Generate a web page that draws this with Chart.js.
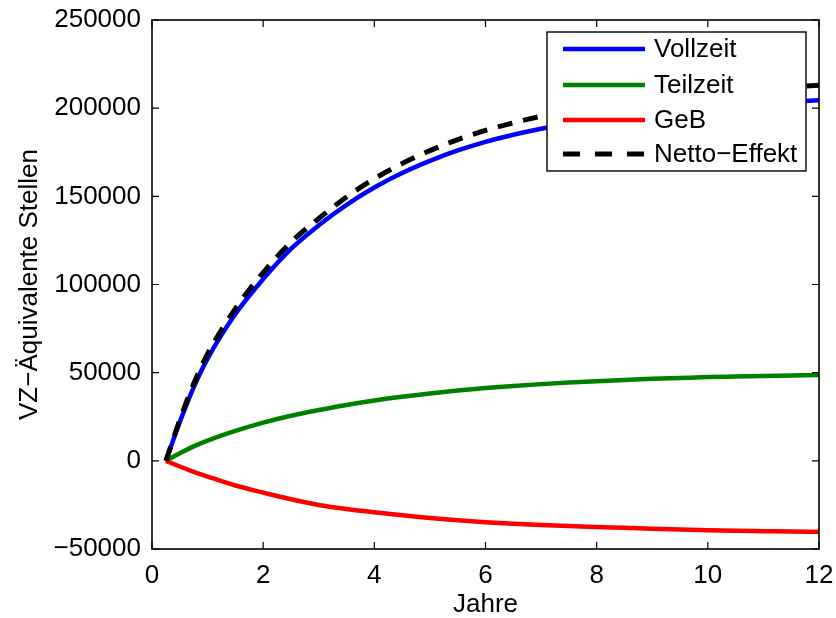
<!DOCTYPE html>
<html>
<head>
<meta charset="utf-8">
<script src="https://cdn.jsdelivr.net/npm/chart.js@4/dist/chart.umd.min.js"></script>
<style>
  html, body { margin: 0; padding: 0; background: #fff; }
  #wrap { width: 836px; height: 618px; position: relative; }
</style>
</head>
<body>
<div id="wrap"><canvas id="c" width="836" height="618"></canvas></div>
<script>
// ---- Data ----
const years = [0.25, 0.5, 0.75, 1, 1.5, 2, 2.5, 3, 3.5, 4, 4.5, 5, 5.5, 6, 6.5, 7, 7.5, 8, 8.5, 9, 9.5, 10, 10.5, 11, 11.5, 12];
const vollzeit = [0, 22000, 41700, 58000, 83300, 103100, 120200, 133600, 145200, 155000, 163200, 170100, 176000, 180900, 184900, 188300, 191200, 193600, 195600, 197400, 198900, 200200, 201500, 202600, 203600, 204500];
const teilzeit = [0, 4300, 8200, 11500, 17000, 21700, 25600, 28800, 31700, 34200, 36300, 38200, 39900, 41300, 42500, 43500, 44400, 45200, 45900, 46500, 47000, 47500, 47800, 48100, 48400, 48700];
const geb = [0, -3200, -6200, -8900, -14000, -18000, -21800, -25000, -27300, -29200, -30900, -32400, -33700, -34800, -35700, -36400, -37000, -37500, -38000, -38500, -39000, -39400, -39700, -39900, -40100, -40200];
const netto = [0, 23100, 43700, 60600, 86300, 106800, 124000, 137400, 149600, 160000, 168600, 175900, 182200, 187400, 191700, 195400, 198600, 201300, 203500, 205400, 206900, 208300, 209600, 210800, 211900, 213000];

const seriesNames = ['Vollzeit', 'Teilzeit', 'GeB', 'Netto\u2212Effekt'];
const xTickValues = [0, 2, 4, 6, 8, 10, 12];
const xTickLabels = ['0', '2', '4', '6', '8', '10', '12'];
const yTickValues = [-50000, 0, 50000, 100000, 150000, 200000, 250000];
const yTickLabels = ['\u221250000', '0', '50000', '100000', '150000', '200000', '250000'];
const xTitle = 'Jahre';
const yTitle = 'VZ\u2212\u00C4quivalente Stellen';

const FONT = 'Liberation Sans, Arial, Helvetica, sans-serif';
const FS = 26;

function pts(arr) { return years.map((x, i) => ({ x: x, y: arr[i] })); }

const lineStyles = [
  { color: '#0000FF', dash: [] },
  { color: '#008000', dash: [] },
  { color: '#FF0000', dash: [] },
  { color: '#000000', dash: [15, 11] }
];
const allSeries = [vollzeit, teilzeit, geb, netto];

const datasets = allSeries.map((arr, i) => ({
  label: seriesNames[i],
  data: pts(arr),
  borderColor: lineStyles[i].color,
  backgroundColor: lineStyles[i].color,
  borderDash: lineStyles[i].dash,
  borderWidth: i === 3 ? 5 : 4.5,
  pointRadius: 0,
  fill: false,
  cubicInterpolationMode: 'monotone',
  order: 4 - i
}));

// Box, inward ticks, and legend
const boxPlugin = {
  id: 'boxPlugin',
  afterDraw(chart) {
    const ctx = chart.ctx;
    const a = chart.chartArea;
    const xs = chart.scales.x, ys = chart.scales.y;
    ctx.save();
    ctx.strokeStyle = '#000';
    ctx.lineWidth = 1.6;
    ctx.setLineDash([]);
    ctx.strokeRect(a.left, a.top, a.right - a.left, a.bottom - a.top);
    const tl = 7;
    ctx.lineWidth = 1.2;
    ctx.beginPath();
    xTickValues.forEach(v => {
      const px = xs.getPixelForValue(v);
      ctx.moveTo(px, a.bottom); ctx.lineTo(px, a.bottom - tl);
      ctx.moveTo(px, a.top); ctx.lineTo(px, a.top + tl);
    });
    yTickValues.forEach(v => {
      const py = ys.getPixelForValue(v);
      ctx.moveTo(a.left, py); ctx.lineTo(a.left + tl, py);
      ctx.moveTo(a.right, py); ctx.lineTo(a.right - tl, py);
    });
    ctx.stroke();

    // Legend
    const lw = 259, lh = 139;
    const lx = a.right - 13 - lw, ly = a.top + 12;
    ctx.fillStyle = '#fff';
    ctx.fillRect(lx, ly, lw, lh);
    ctx.lineWidth = 1.4;
    ctx.strokeStyle = '#000';
    ctx.strokeRect(lx, ly, lw, lh);
    ctx.font = FS + 'px ' + FONT;
    ctx.textBaseline = 'middle';
    ctx.textAlign = 'left';
    const rowY = [17, 53, 88, 122];
    chart.data.datasets.forEach((ds, i) => {
      const y = ly + rowY[i];
      ctx.strokeStyle = ds.borderColor;
      ctx.lineWidth = i === 3 ? 5 : 4.5;
      ctx.setLineDash(i === 3 ? [17, 15] : []);
      ctx.beginPath();
      ctx.moveTo(lx + 16, y);
      ctx.lineTo(lx + 98, y);
      ctx.stroke();
      ctx.setLineDash([]);
      ctx.fillStyle = '#000';
      ctx.fillText(ds.label, lx + 107, y + 1);
    });
    ctx.restore();
  }
};

Chart.defaults.font.family = FONT;
Chart.defaults.font.size = FS;
Chart.defaults.color = '#000';

new Chart(document.getElementById('c'), {
  type: 'line',
  data: { datasets: datasets },
  options: {
    responsive: false,
    animation: false,
    devicePixelRatio: 1,
    layout: { padding: { top: 20, right: 17, bottom: 0, left: 0 } },
    plugins: { legend: { display: false }, tooltip: { enabled: false } },
    scales: {
      x: {
        type: 'linear',
        min: 0, max: 12,
        afterBuildTicks: (s) => { s.ticks = xTickValues.map(v => ({ value: v })); },
        ticks: {
          callback: (v) => xTickLabels[xTickValues.indexOf(v)],
          padding: 11,
          maxRotation: 0,
          autoSkip: false,
          font: { size: FS, family: FONT }
        },
        grid: { display: false, drawTicks: false },
        border: { display: false },
        title: { display: true, text: xTitle, font: { size: FS, family: FONT, lineHeight: 1 }, padding: { top: 0, bottom: 0 } },
        afterFit: (s) => { s.height = 69; s.paddingLeft = 0; s.paddingRight = 0; }
      },
      y: {
        type: 'linear',
        min: -50000, max: 250000,
        afterBuildTicks: (s) => { s.ticks = yTickValues.map(v => ({ value: v })); },
        ticks: {
          callback: (v) => yTickLabels[yTickValues.indexOf(v)],
          padding: 11,
          autoSkip: false,
          font: { size: FS, family: FONT }
        },
        grid: { display: false, drawTicks: false },
        border: { display: false },
        title: { display: true, text: yTitle, font: { size: FS, family: FONT, lineHeight: 1 }, padding: { top: 17, bottom: 0 } },
        afterFit: (s) => { s.width = 152; s.paddingTop = 0; s.paddingBottom = 0; }
      }
    }
  },
  plugins: [boxPlugin]
});
</script>
</body>
</html>
